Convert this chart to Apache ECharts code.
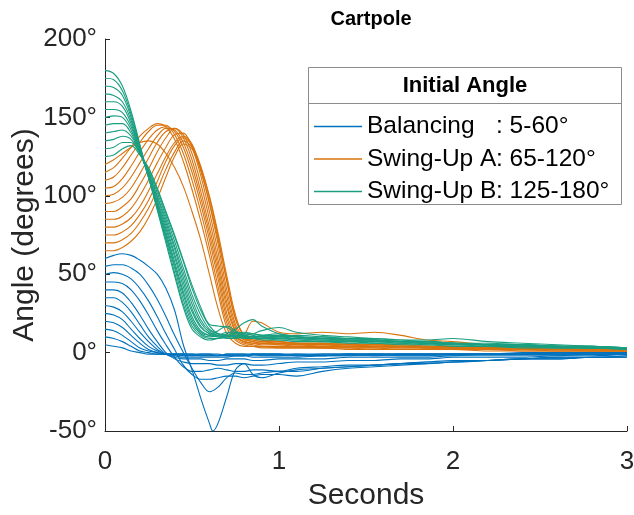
<!DOCTYPE html>
<html><head><meta charset="utf-8">
<script src="https://cdn.jsdelivr.net/npm/echarts@6/dist/echarts.min.js"></script>
<style>html,body{margin:0;padding:0;background:#fff}#c{width:634px;height:515px}</style>
</head><body><div id="c"></div>
<script>
// time grid (seconds)
const T = [0,0.05,0.1,0.15,0.2,0.25,0.3,0.35,0.4,0.45,0.5,0.55,0.6,0.65,0.7,0.75,0.8,0.85,0.9,1.0,1.1,1.25,1.4,1.55,1.7,1.85,2.0,2.2,2.4,2.6,2.8,3.0];
// denser grid used for the deepest balancing run (sharp dip at 0.62 s)
const T60 = [0,0.05,0.1,0.15,0.2,0.25,0.3,0.35,0.4,0.45,0.5,0.55,0.6,0.62,0.65,0.7,0.75,0.8,0.85,0.9,1.0,1.1,1.25,1.4,1.55,1.7,1.85,2.0,2.2,2.4,2.6,2.8,3.0];
const xTicks = [0,1,2,3];
const yTicks = [-50,0,50,100,150,200];
const groupNames = ['Balancing   : 5-60°','Swing-Up A: 65-120°','Swing-Up B: 125-180°'];

// Balancing 5-60°
const b05 = [5,4,3,1,0,-1,-1,-1,-1,-2,-2,-1,-1,-1,-2,-2,-2,-1,-1,-1,-2,-2,-1,-1,-1,-1,-1,-1,0,0,0,0];
const b10 = [10,9,7,4,1,0,-1,-1,-1,-1,-1,-2,-2,-2,-1,-1,-1,-2,-2,-2,-1,-1,-1,-2,-1,-1,-1,-1,-1,0,0,0];
const b15 = [15,14,11,7,3,1,0,-1,-1,-1,-1,-1,-1,-2,-2,-2,-2,-1,-1,-1,-1,-2,-2,-1,-1,-1,-1,-1,-1,-1,0,0];
const b20 = [20,19,16,11,6,2,0,-1,-1,-1,-2,-2,-2,-2,-1,-1,-1,-1,-2,-2,-2,-1,-1,-1,-2,-2,-1,-1,-1,-1,-1,0];
const b25 = [25,24,21,15,9,4,1,-1,-2,-2,-2,-2,-2,-2,-2,-2,-2,-1,-1,-1,-2,-2,-1,-1,-1,-1,-1,-1,-1,0,0,0];
const b30 = [30,29,26,20,13,7,2,-1,-2,-3,-3,-3,-3,-3,-3,-2,-2,-3,-3,-3,-3,-2,-2,-2,-2,-2,-2,-1,-1,-1,-1,-1];
const b35 = [35,35,32,26,18,10,4,-1,-3,-4,-4,-4,-5,-5,-4,-4,-4,-5,-5,-4,-4,-4,-3,-3,-3,-3,-2,-2,-2,-2,-1,-1];
const b40 = [40,40,38,32,24,15,7,0,-4,-6,-7,-7,-7,-8,-8,-7,-7,-8,-8,-7,-6,-6,-5,-5,-4,-4,-3,-3,-3,-2,-2,-1];
const b45 = [45,45,44,40,33,24,14,5,-3,-9,-12,-12,-11,-10,-11,-12,-12,-11,-11,-12,-10,-9,-8,-8,-7,-6,-5,-5,-4,-3,-3,-2];
const b50 = [50,51,50,47,41,33,23,12,2,-8,-14,-17,-17,-16,-15,-15,-16,-15,-14,-14,-15,-12,-10,-9,-8,-7,-6,-5,-4,-4,-3,-3];
const b55 = [55,56,56,54,50,43,34,23,11,0,-10,-19,-25,-22,-16,-13,-14,-14,-13,-12,-12,-10,-9,-8,-7,-6,-6,-5,-4,-3,-3,-2];
const b60 = [60,62,63,62,59,55,50,41,27,5,-11,-29,-45,-50,-45,-28,-11,-7,-14,-16,-13,-11,-10,-9,-8,-7,-7,-6,-5,-4,-4,-3,-3];

// Swing-Up A 65-120°
const a065 = [65,65,67,71,77,86,98,112,125,133,130,116,96,72,46,22,11,9,8,7,6,6,5,5,5,4,4,3,3,2,2,2];
const a070 = [70,70,72,76,83,92,104,117,128,135,131,118,100,76,49,24,12,20,19,13,12,13,12,13,11,8,7,5,4,3,3,2];
const a075 = [75,75,77,81,88,97,109,122,132,137,132,119,99,74,45,21,11,9,8,7,6,6,6,5,5,4,4,3,3,3,2,2];
const a080 = [80,80,82,86,93,103,114,125,134,138,133,117,95,69,40,18,10,8,7,7,6,6,5,5,4,4,3,3,3,2,2,2];
const a085 = [85,85,87,92,100,110,121,131,139,140,131,113,90,64,36,16,9,8,7,6,6,5,5,4,4,4,3,3,3,2,2,2];
const a090 = [90,90,93,98,107,117,128,137,143,139,127,108,85,59,32,14,9,7,6,6,5,5,5,4,4,3,3,3,2,2,2,2];
const a095 = [95,96,99,105,114,124,134,141,143,137,123,103,80,55,29,13,8,7,6,6,5,5,4,4,4,3,3,3,2,2,2,1];
const a100 = [100,101,105,112,121,130,138,143,142,134,119,99,76,51,25,11,7,6,6,5,5,4,4,4,3,3,3,2,2,2,2,1];
const a105 = [105,106,111,119,128,136,142,144,141,131,115,95,72,47,22,10,7,6,5,5,4,4,4,3,3,3,2,2,2,2,1,1];
const a110 = [110,112,118,126,134,141,145,145,139,127,110,90,67,42,19,9,6,5,4,4,4,3,3,3,2,2,2,2,2,1,1,1];
const a115 = [115,118,124,131,138,143,146,144,136,122,104,84,62,38,16,8,5,4,4,3,3,3,3,2,2,2,2,2,1,1,1,1];
const a120 = [120,123,127,131,134,135,133,127,118,106,90,72,50,28,12,6,4,4,3,3,3,3,2,2,2,2,2,1,1,1,1,1];

// Swing-Up B 125-180°
const g125 = [125,126,130,132,126,118,105,90,75,59,43,29,18,17,16,13,12,12,11,11,10,9,9,8,7,7,6,6,5,4,4,3];
const g130 = [130,131,134,134,127,117,104,89,74,58,41,27,17,12,11,12,13,12,11,10,10,9,8,8,7,7,6,5,5,4,3,3];
const g135 = [135,136,138,136,127,116,102,87,71,54,37,24,15,12,11,11,11,10,10,9,9,10,9,9,8,7,6,5,5,4,4,3];
const g140 = [140,141,142,138,128,115,100,85,68,51,34,21,14,12,11,10,10,9,9,10,9,8,8,7,7,6,6,5,4,4,3,3];
const g145 = [145,146,146,140,128,114,99,83,66,48,31,19,13,11,10,10,11,12,14,16,13,11,10,9,8,8,9,7,6,5,4,3];
const g150 = [150,151,150,142,128,113,97,81,63,45,28,17,12,10,9,9,10,10,9,9,8,8,7,7,6,6,5,5,4,3,3,2];
const g155 = [155,155,153,144,129,113,96,79,61,42,26,16,12,11,12,15,19,21,17,12,10,9,9,8,7,6,5,5,4,4,3,3];
const g160 = [160,160,157,146,129,112,95,77,58,39,23,14,11,10,11,13,12,11,10,10,11,10,9,8,7,7,6,5,5,4,4,3];
const g165 = [165,164,160,148,130,112,94,75,56,37,21,13,11,14,17,14,11,10,11,12,10,9,8,8,7,6,6,5,5,4,3,3];
const g170 = [170,169,164,150,131,112,93,74,54,34,19,12,10,11,13,12,11,10,10,9,9,8,8,7,7,6,6,5,4,4,3,3];
const g175 = [175,174,167,152,132,112,92,72,51,31,17,11,9,9,10,10,9,9,8,8,7,7,6,6,5,5,4,4,3,3,3,2];
const g180 = [180,178,170,154,133,112,91,70,49,29,15,10,8,9,10,11,10,9,9,8,8,7,7,6,6,5,5,4,4,3,3,3];

const groups = [
  [b05,b10,b15,b20,b25,b30,b35,b40,b45,b50,b55,b60],
  [a065,a070,a075,a080,a085,a090,a095,a100,a105,a110,a115,a120],
  [g125,g130,g135,g140,g145,g150,g155,g160,g165,g170,g175,g180]
];
const colors = ['#0072BD','#D9730D','#1A9E80'];
const FONT = 'Liberation Sans, Arial, Helvetica, sans-serif';
const AX = '#262626';

const series = [];
groups.forEach((g, gi) => {
  g.forEach(arr => {
    const tt = arr.length === T60.length ? T60 : T;
    series.push({
      type: 'line', name: groupNames[gi], symbol: 'none', smooth: 0.35,
      data: tt.map((t, i) => [t, arr[i]]),
      lineStyle: { color: colors[gi], width: 1.1 },
      itemStyle: { color: colors[gi] },
      emphasis: { disabled: true }, animation: false, silent: true
    });
  });
});

const chart = echarts.init(document.getElementById('c'), null, { renderer: 'canvas' });
chart.setOption({
  animation: false,
  textStyle: { fontFamily: FONT },
  title: { text: 'Cartpole', left: 366, top: 4, textAlign: 'center',
    textStyle: { fontFamily: FONT, fontWeight: 'bold', fontSize: 20, color: '#000' } },
  grid: { left: 105, right: 7, top: 39, bottom: 84, containLabel: false, outerBoundsMode: 'none' },
  xAxis: {
    type: 'value', min: xTicks[0], max: xTicks[xTicks.length - 1], interval: 1,
    name: 'Seconds', nameLocation: 'middle', nameGap: 50, nameMoveOverlap: false,
    nameTextStyle: { fontFamily: FONT, fontSize: 30, color: AX },
    axisLine: { onZero: false, lineStyle: { color: AX, width: 1 } },
    axisTick: { inside: true, length: 5, lineStyle: { color: AX } },
    axisLabel: { fontFamily: FONT, fontSize: 26, color: AX, margin: 18 },
    splitLine: { show: false }
  },
  yAxis: {
    type: 'value', min: yTicks[0], max: yTicks[yTicks.length - 1], interval: 50,
    name: 'Angle (degrees)', nameLocation: 'middle', nameGap: 65, nameRotate: 90, nameMoveOverlap: false,
    nameTextStyle: { fontFamily: FONT, fontSize: 30, color: AX },
    axisLine: { show: true, onZero: false, lineStyle: { color: AX, width: 1 } },
    axisTick: { show: true, inside: true, length: 5, lineStyle: { color: AX } },
    axisLabel: { fontFamily: FONT, fontSize: 26, color: AX, margin: 8, formatter: '{value}°' },
    splitLine: { show: false }
  },
  legend: {
    data: groupNames, orient: 'vertical', left: 309, top: 109, z: 20,
    icon: 'rect', itemWidth: 48, itemHeight: 1.3, itemGap: 7.5,
    itemStyle: { borderWidth: 0 },
    textStyle: { fontFamily: FONT, fontSize: 24.5, color: '#000', lineHeight: 24,
      rich: { n: { fontFamily: FONT, fontSize: 24.5, width: 129, color: '#000' },
              c: { fontFamily: FONT, fontSize: 24.5, color: '#000' } } },
    formatter: name => { const p = name.split(':'); return '{n|' + p[0].trim() + '}{c|:' + p[1] + '}'; },
    selectedMode: false
  },
  graphic: [
    { type: 'rect', shape: { x: 308.5, y: 67.5, width: 313, height: 137 }, style: { fill: '#fff', stroke: '#8c8c8c', lineWidth: 1 }, z: 1 },
    { type: 'line', shape: { x1: 308.5, y1: 103.5, x2: 621.5, y2: 103.5 }, style: { stroke: '#8c8c8c', lineWidth: 1 }, z: 2 },
    { type: 'text', x: 465, y: 86, z: 2, style: { text: 'Initial Angle', fontFamily: FONT, fontWeight: 'bold', fontSize: 22, fill: '#000', textAlign: 'center', textVerticalAlign: 'middle' } }
  ],
  series
});
</script></body></html>
